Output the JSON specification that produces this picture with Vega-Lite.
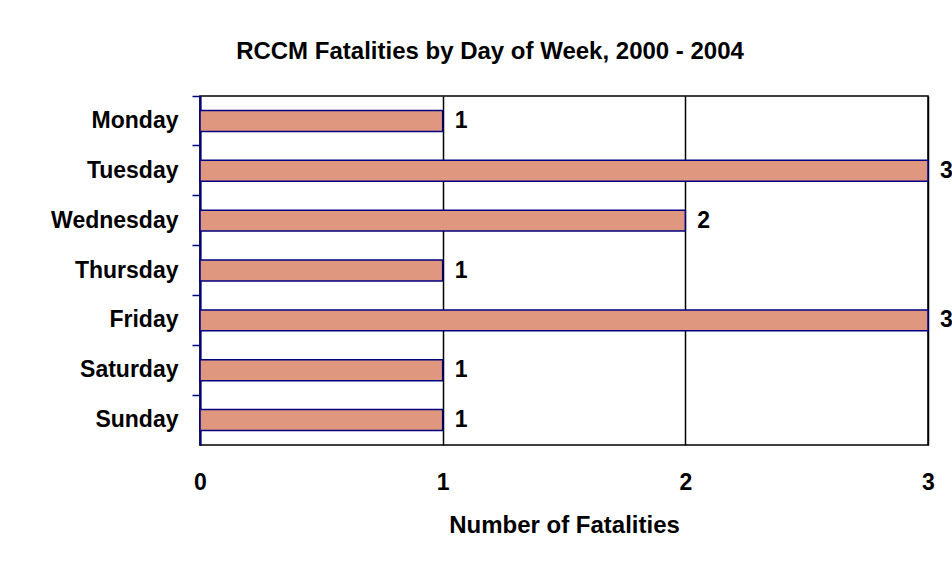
{
  "$schema": "https://vega.github.io/schema/vega-lite/v6.json",
  "autosize": {"type": "none"},
  "padding": {"left": 200, "top": 96, "right": 24, "bottom": 124},
  "width": 728,
  "height": 349,
  "background": "white",
  "title": {
    "text": "RCCM Fatalities by Day of Week, 2000 - 2004",
    "font": "Liberation Sans",
    "fontSize": 24,
    "fontWeight": "bold",
    "color": "black",
    "anchor": "middle",
    "frame": "group",
    "dx": -74,
    "offset": 31
  },
  "config": {
    "view": {"stroke": "black", "strokeWidth": 1.5},
    "font": "Liberation Sans"
  },
  "data": {
    "values": [
      {"day": "Monday", "fatalities": 1},
      {"day": "Tuesday", "fatalities": 3},
      {"day": "Wednesday", "fatalities": 2},
      {"day": "Thursday", "fatalities": 1},
      {"day": "Friday", "fatalities": 3},
      {"day": "Saturday", "fatalities": 1},
      {"day": "Sunday", "fatalities": 1}
    ]
  },
  "encoding": {
    "y": {
      "field": "day",
      "type": "nominal",
      "sort": null,
      "scale": {"paddingInner": 0, "paddingOuter": 0},
      "axis": {
        "title": null,
        "bandPosition": 0,
        "labelOffset": 0,
        "domainColor": "#000080",
        "domainWidth": 2,
        "tickColor": "#000080",
        "tickWidth": 1.5,
        "tickSize": 8,
        "labelFont": "Liberation Sans",
        "labelFontSize": 23,
        "labelFontWeight": "bold",
        "labelColor": "black",
        "labelPadding": 14
      }
    },
    "x": {
      "field": "fatalities",
      "type": "quantitative",
      "scale": {"domain": [0, 3], "nice": false},
      "axis": {
        "values": [0, 1, 2, 3],
        "format": "d",
        "title": "Number of Fatalities",
        "titleFont": "Liberation Sans",
        "titleFontSize": 24,
        "titleFontWeight": "bold",
        "titleColor": "black",
        "titlePadding": 19,
        "domain": false,
        "ticks": false,
        "grid": true,
        "gridColor": "black",
        "gridWidth": 1.5,
        "gridOpacity": 1,
        "labelFont": "Liberation Sans",
        "labelFontSize": 23,
        "labelFontWeight": "bold",
        "labelColor": "black",
        "labelPadding": 26,
        "labelFlush": false
      }
    }
  },
  "layer": [
    {
      "mark": {
        "type": "bar",
        "height": {"band": 0.42},
        "color": "#E0977F",
        "stroke": "#000080",
        "strokeWidth": 1.5
      }
    },
    {
      "mark": {
        "type": "text",
        "align": "left",
        "baseline": "middle",
        "dx": 12,
        "font": "Liberation Sans",
        "fontSize": 23,
        "fontWeight": "bold",
        "color": "black"
      },
      "encoding": {"text": {"field": "fatalities", "type": "quantitative"}}
    }
  ]
}
